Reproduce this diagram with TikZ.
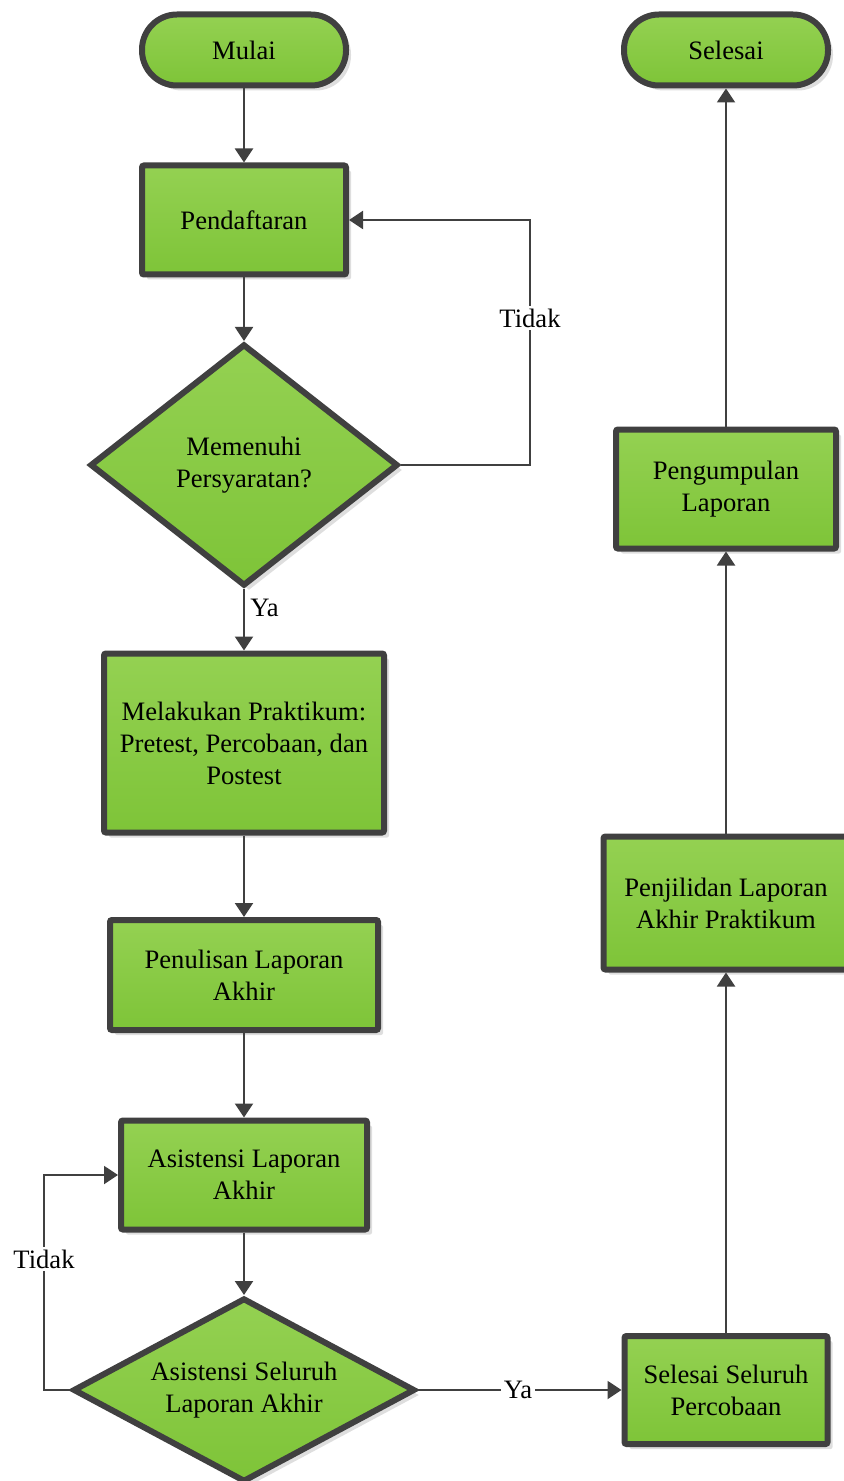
\documentclass[tikz,border=0pt]{standalone}
\usepackage{fontspec}
\setmainfont{Liberation Serif}
\usetikzlibrary{shapes.geometric,arrows.meta,shadows}
\definecolor{edge}{RGB}{64,64,64}
\definecolor{gtop}{RGB}{148,209,82}
\definecolor{gbot}{RGB}{126,196,56}
\begin{document}
\begin{tikzpicture}[x=0.5pt,y=-0.5pt,
  base/.style={draw=edge, line width=3pt, top color=gtop, bottom color=gbot,
    align=center, inner sep=0pt, font=\fontsize{13.3}{16}\selectfont,
    drop shadow={shadow xshift=2.5pt, shadow yshift=-2.5pt, fill=black!13, opacity=1}},
  proc/.style={base, rectangle, rounded corners=1pt},
  term/.style={base, rectangle, rounded corners=17.5pt,
    minimum width=102pt, minimum height=35.5pt},
  dec/.style={base, diamond},
  link/.style={draw=edge, line width=1pt, -{Triangle[length=7pt,width=9pt]}},
  lbl/.style={fill=white, inner sep=1.5pt, font=\fontsize{13.3}{16}\selectfont}]

\useasboundingbox (0,0) rectangle (844,1481);

% left column
\node[term] (mulai) at (244,50) {Mulai};
\node[proc, minimum width=102pt, minimum height=54.5pt] (daftar) at (244,220) {Pendaftaran};
\node[dec, shape aspect=1.28, minimum width=154pt, minimum height=121pt] (syarat) at (244,465)
  {Memenuhi\\Persyaratan?};
\node[proc, minimum width=140pt, minimum height=89.5pt] (praktikum) at (244,743)
  {Melakukan Praktikum:\\Pretest, Percobaan, dan\\Postest};
\node[proc, minimum width=134pt, minimum height=55pt] (tulis) at (244,975)
  {Penulisan Laporan\\Akhir};
\node[proc, minimum width=123pt, minimum height=54.5pt] (asis) at (244,1175)
  {Asistensi Laporan\\Akhir};
\node[dec, shape aspect=1.88, minimum width=171pt, minimum height=92pt] (seluruh) at (244,1390)
  {Asistensi Seluruh\\Laporan Akhir};

% right column
\node[proc, minimum width=101.5pt, minimum height=54pt] (percobaan) at (726,1390)
  {Selesai Seluruh\\Percobaan};
\node[proc, minimum width=122.5pt, minimum height=66.5pt] (jilid) at (726,903)
  {Penjilidan Laporan\\Akhir Praktikum};
\node[proc, minimum width=110pt, minimum height=59.5pt] (kumpul) at (726,489)
  {Pengumpulan\\Laporan};
\node[term] (selesai) at (726,50) {Selesai};

% connectors
\draw[link] (mulai) -- (daftar);
\draw[link] (daftar) -- (syarat);
\draw[link] (syarat) -- (praktikum);
\draw[link] (praktikum) -- (tulis);
\draw[link] (tulis) -- (asis);
\draw[link] (asis) -- (seluruh);
\coordinate (tk1) at (530,465);
\draw[link] (syarat.east) -- (tk1) |- (daftar.east);
\coordinate (tk2) at (44,1390);
\draw[link] (seluruh.west) -- (tk2) |- (asis.west);
\draw[link] (seluruh.east) -- (percobaan.west);
\draw[link] (percobaan) -- (jilid);
\draw[link] (jilid) -- (kumpul);
\draw[link] (kumpul) -- (selesai);

% labels
\node[lbl] (tidak1) at (530,318) {Tidak};
\node[lbl] (tidak2) at (44,1259) {Tidak};
\node[lbl] (ya2) at (518,1390) {Ya};
\node[font=\fontsize{13.3}{16}\selectfont, inner sep=0pt, anchor=west] (ya1) at (250,608) {Ya};
\end{tikzpicture}
\end{document}
